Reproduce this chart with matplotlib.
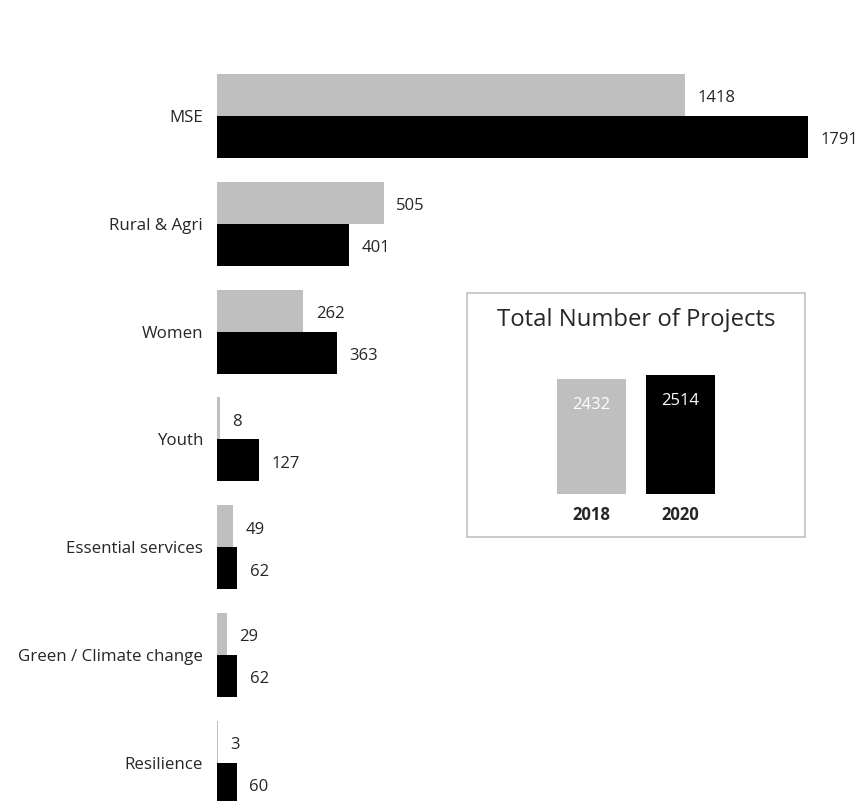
import matplotlib
matplotlib.use("Agg")
import matplotlib.pyplot as plt
from matplotlib.patches import Rectangle

plt.rcParams['font.family'] = ['Open Sans', 'DejaVu Sans']

categories = ["MSE", "Rural & Agri", "Women", "Youth", "Essential services",
              "Green / Climate change", "Resilience"]
values_2018 = [1418, 505, 262, 8, 49, 29, 3]
values_2020 = [1791, 401, 363, 127, 62, 62, 60]

total_years = ["2018", "2020"]
total_values = [2432, 2514]

GRAY = "#bfbfbf"
BLACK = "#000000"
TEXT = "#262626"

W, H = 858, 801
fig = plt.figure(figsize=(W / 100, H / 100), dpi=100)


def fig_rect(x0, y0, x1, y1):
    """Convert pixel box (top-left origin) to figure fraction [l, b, w, h]."""
    return [x0 / W, (H - y1) / H, (x1 - x0) / W, (y1 - y0) / H]


# Main horizontal grouped bar chart
ax = fig.add_axes(fig_rect(217, 0, 858, 801))
step = 107.8
first = 116
ax.set_ylim((H - first) / step, -first / step)
ax.set_xlim(0, 641 / 0.33)
h = 0.39
pos = list(range(len(categories)))
ax.barh([p - h / 2 for p in pos], values_2018, height=h, color=GRAY)
ax.barh([p + h / 2 for p in pos], values_2020, height=h, color=BLACK)

for p, v in zip(pos, values_2018):
    ax.annotate(str(v), (v, p - h / 2), xytext=(9, -2.5), textcoords="offset points",
                va="center", ha="left", fontsize=12, color=TEXT)
for p, v in zip(pos, values_2020):
    ax.annotate(str(v), (v, p + h / 2), xytext=(9, -2.5), textcoords="offset points",
                va="center", ha="left", fontsize=12, color=TEXT)

ax.set_yticks(pos)
ax.set_yticklabels(categories, fontsize=12.2, color=TEXT)
ax.tick_params(axis="y", length=0, pad=10)
ax.set_xticks([])
for s in ax.spines.values():
    s.set_visible(False)

# Inset: total number of projects
fig.patches.append(Rectangle((467 / W, (H - 537) / H), (805 - 467) / W, (537 - 293) / H,
                             transform=fig.transFigure, fill=False,
                             edgecolor="#c8c8c8", linewidth=1.3))
fig.text(636 / W, (H - 320) / H, "Total Number of Projects", ha="center", va="center",
         fontsize=17.2, color=TEXT)

iax = fig.add_axes(fig_rect(536, 340, 736, 494))
iax.set_xlim(-55.5 / 89, 1 + 55.5 / 89)
iax.set_ylim(0, 154 / 0.0473)
iax.bar([0, 1], total_values, width=69 / 89, color=[GRAY, BLACK])
for x, v in zip([0, 1], total_values):
    iax.annotate(str(v), (x, v), xytext=(0, -18.5), textcoords="offset points",
                 ha="center", va="center", fontsize=12, color="white")
iax.set_xticks([0, 1])
iax.set_xticklabels(total_years, color=TEXT)
for lbl in iax.get_xticklabels():
    lbl.set_fontsize(12)
    lbl.set_fontweight("bold")
iax.tick_params(axis="x", length=0, pad=9)
iax.set_yticks([])
for s in iax.spines.values():
    s.set_visible(False)

fig.savefig("out.png", dpi=100)
